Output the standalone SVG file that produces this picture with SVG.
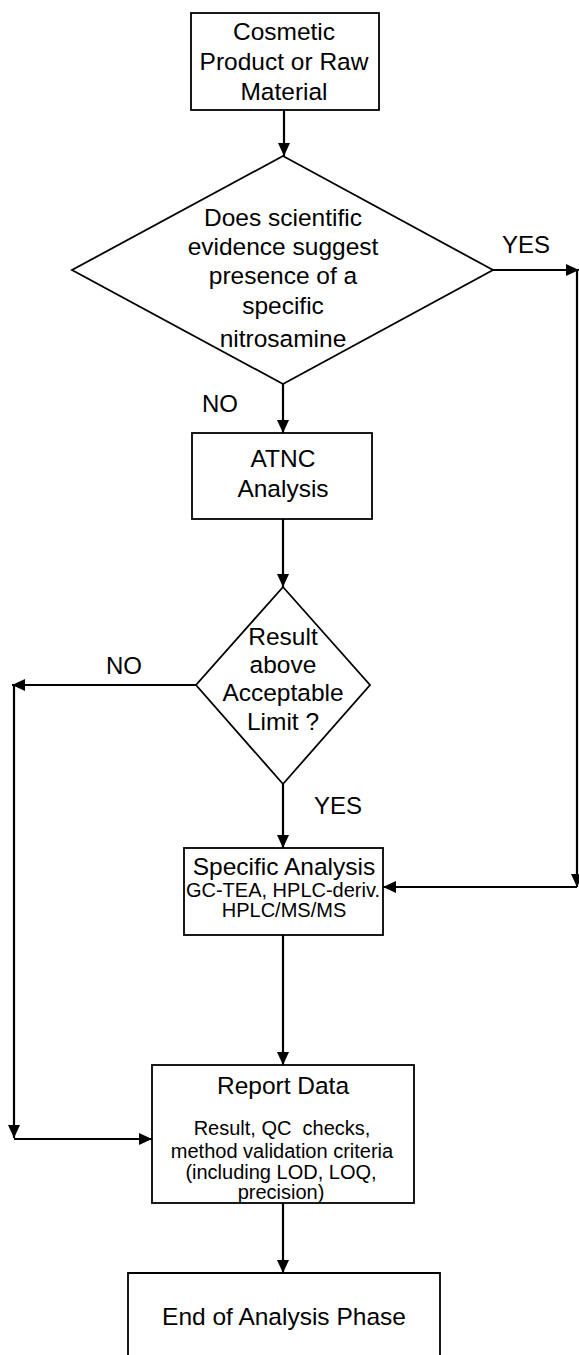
<svg xmlns="http://www.w3.org/2000/svg" width="579" height="1355" viewBox="0 0 579 1355">
<style>
.box{fill:#fff;stroke:#000;stroke-width:1.8}
.con{fill:none;stroke:#000;stroke-width:2.2}
.t{font-family:"Liberation Sans",Arial,sans-serif;font-size:24.5px;fill:#000;text-anchor:middle}
.s{font-family:"Liberation Sans",Arial,sans-serif;font-size:20px;fill:#000;text-anchor:middle}
.l{font-family:"Liberation Sans",Arial,sans-serif;font-size:24px;fill:#000}
</style>
<defs>
<marker id="ah" viewBox="0 0 13 12" refX="13" refY="6" markerWidth="13" markerHeight="12" markerUnits="userSpaceOnUse" orient="auto">
<path d="M0,0 L13,6 L0,12 z" fill="#000"/>
</marker>
</defs>
<rect width="579" height="1355" fill="#fff"/>
<g id="connectors">
<line class="con" x1="284" y1="110" x2="284" y2="156" marker-end="url(#ah)"/>
<line class="con" x1="493" y1="270" x2="579" y2="270" marker-end="url(#ah)"/>
<line class="con" x1="577" y1="270" x2="577" y2="887" marker-end="url(#ah)"/>
<line class="con" x1="577" y1="887" x2="383" y2="887" marker-end="url(#ah)"/>
<line class="con" x1="283" y1="383" x2="283" y2="433" marker-end="url(#ah)"/>
<line class="con" x1="283" y1="519" x2="283" y2="587" marker-end="url(#ah)"/>
<line class="con" x1="196" y1="685" x2="12" y2="685" marker-end="url(#ah)"/>
<line class="con" x1="14" y1="685" x2="14" y2="1138" marker-end="url(#ah)"/>
<line class="con" x1="14" y1="1139" x2="152" y2="1139" marker-end="url(#ah)"/>
<line class="con" x1="283" y1="784" x2="283" y2="848" marker-end="url(#ah)"/>
<line class="con" x1="283" y1="935" x2="283" y2="1065" marker-end="url(#ah)"/>
<line class="con" x1="283" y1="1203" x2="283" y2="1273" marker-end="url(#ah)"/>
<text class="l" x="502" y="253">YES</text>
<text class="l" x="202" y="412">NO</text>
<text class="l" x="106" y="674">NO</text>
<text class="l" x="314" y="814">YES</text>
</g>
<g id="start">
<rect class="box" x="191" y="13" width="188" height="97"/>
<text class="t" x="284" y="40">Cosmetic</text>
<text class="t" x="284" y="70">Product or Raw</text>
<text class="t" x="284" y="100">Material</text>
</g>
<g id="decision1">
<polygon class="box" points="283,156 493,270 283,384 72,270"/>
<text class="t" x="283" y="226">Does scientific</text>
<text class="t" x="283" y="255">evidence suggest</text>
<text class="t" x="283" y="284">presence of a</text>
<text class="t" x="283" y="314">specific</text>
<text class="t" x="283" y="347">nitrosamine</text>
</g>
<g id="atnc">
<rect class="box" x="192" y="433" width="180" height="86"/>
<text class="t" x="283" y="467">ATNC</text>
<text class="t" x="283" y="497">Analysis</text>
</g>
<g id="decision2">
<polygon class="box" points="283,587 370,685 283,784 196,685"/>
<text class="t" x="283" y="645">Result</text>
<text class="t" x="283" y="673">above</text>
<text class="t" x="283" y="701">Acceptable</text>
<text class="t" x="283" y="730">Limit ?</text>
</g>
<g id="specific">
<rect class="box" x="184" y="848" width="199" height="87"/>
<text class="t" x="284" y="875">Specific Analysis</text>
<text class="s" x="283" y="897">GC-TEA, HPLC-deriv.</text>
<text class="s" x="284" y="917">HPLC/MS/MS</text>
</g>
<g id="report">
<rect class="box" x="152" y="1065" width="262" height="138"/>
<text class="t" x="283" y="1094">Report Data</text>
<text class="s" x="282" y="1135" style="white-space:pre">Result, QC  checks,</text>
<text class="s" x="282" y="1158">method validation criteria</text>
<text class="s" x="281" y="1179">(including LOD, LOQ,</text>
<text class="s" x="281" y="1199">precision)</text>
</g>
<g id="end">
<path class="box" d="M128,1360 V1273 H440 V1360"/>
<text class="t" x="284" y="1325">End of Analysis Phase</text>
</g>
</svg>
